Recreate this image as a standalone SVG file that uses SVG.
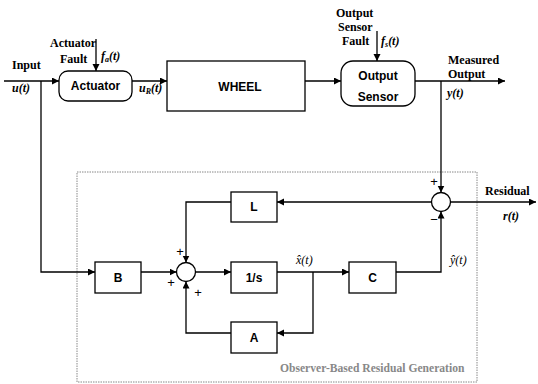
<svg xmlns="http://www.w3.org/2000/svg" width="538" height="384" viewBox="0 0 538 384">
<style>
.box{fill:#fff;stroke:#000;stroke-width:1.3}
.ln{fill:none;stroke:#000;stroke-width:1.3}
.bl{font-family:"Liberation Sans",Arial,sans-serif;font-weight:bold;font-size:12px;text-anchor:middle}
.lb{font-family:"Liberation Serif","Times New Roman",serif;font-weight:bold;font-size:12px}
.it{font-family:"Liberation Serif","Times New Roman",serif;font-weight:bold;font-style:italic;font-size:12px}
.pm{font-family:"Liberation Sans",Arial,sans-serif;font-size:13px;text-anchor:middle}
</style>
<defs>
<marker id="ah" markerWidth="8" markerHeight="8" refX="7" refY="3.5" orient="auto" markerUnits="userSpaceOnUse">
<path d="M0,0 L7,3.5 L0,7 Z" fill="#000"/>
</marker>
</defs>
<rect x="77" y="172" width="400" height="210" fill="none" stroke="#888" stroke-width="1" stroke-dasharray="1.5,1"/>
<text x="280" y="372" font-family="'Liberation Serif','Times New Roman',serif" font-weight="bold" font-size="11.6" fill="#888">Observer-Based Residual Generation</text>

<g id="actuator"><rect class="box" x="59" y="71" width="73" height="30" rx="9"/><text class="bl" x="95.5" y="90">Actuator</text></g>
<g id="wheel"><rect class="box" x="167" y="61" width="138" height="50"/><text class="bl" x="240" y="91">WHEEL</text></g>
<g id="sensor"><rect class="box" x="341" y="61" width="74" height="45" rx="12"/><text class="bl" x="378" y="80">Output</text><text class="bl" x="378" y="101">Sensor</text></g>
<g id="L"><rect class="box" x="231" y="192" width="46" height="30"/><text class="bl" x="254" y="211">L</text></g>
<g id="integ"><rect class="box" x="231" y="262" width="46" height="31"/><text class="bl" x="254" y="282">1/s</text></g>
<g id="A"><rect class="box" x="231" y="322" width="46" height="31"/><text class="bl" x="254" y="342">A</text></g>
<g id="B"><rect class="box" x="95" y="262" width="46" height="31"/><text class="bl" x="118" y="282">B</text></g>
<g id="C"><rect class="box" x="349" y="262" width="47" height="31"/><text class="bl" x="372.5" y="282">C</text></g>
<g id="sum1"><circle class="box" cx="186" cy="272" r="9.5"/></g>
<g id="sum2"><circle class="box" cx="441" cy="202" r="9.5"/></g>

<g id="connectors">
<path class="ln" d="M4,81 H59" marker-end="url(#ah)"/>
<path class="ln" d="M96,39 V71" marker-end="url(#ah)"/>
<path class="ln" d="M132,81 H167" marker-end="url(#ah)"/>
<path class="ln" d="M305,81 H341" marker-end="url(#ah)"/>
<path class="ln" d="M377,31 V61" marker-end="url(#ah)"/>
<path class="ln" d="M415,81 H505" marker-end="url(#ah)"/>
<path class="ln" d="M441,81 V192.5" marker-end="url(#ah)"/>
<path class="ln" d="M450.5,202 H536" marker-end="url(#ah)"/>
<path class="ln" d="M431.5,202 H277" marker-end="url(#ah)"/>
<path class="ln" d="M231,202 H186 V262.5" marker-end="url(#ah)"/>
<path class="ln" d="M41,81 V272 H95" marker-end="url(#ah)"/>
<path class="ln" d="M141,272 H176.5" marker-end="url(#ah)"/>
<path class="ln" d="M195.5,272 H231" marker-end="url(#ah)"/>
<path class="ln" d="M277,272 H349" marker-end="url(#ah)"/>
<path class="ln" d="M313,272 V333 H277" marker-end="url(#ah)"/>
<path class="ln" d="M231,333 H186 V281.5" marker-end="url(#ah)"/>
<path class="ln" d="M396,272 H441 V211.5" marker-end="url(#ah)"/>
</g>

<g id="labels">
<text class="lb" x="12" y="69">Input</text>
<text class="it" x="12" y="92">u(t)</text>
<text class="lb" x="50" y="47">Actuator</text>
<text class="lb" x="60" y="63">Fault</text>
<text class="it" x="101" y="60">f<tspan font-size="8" dy="2">a</tspan><tspan dy="-2">(t)</tspan></text>
<text class="it" x="139" y="92">u<tspan font-size="8" dy="2">R</tspan><tspan dy="-2">(t)</tspan></text>
<text class="lb" x="336" y="17">Output</text>
<text class="lb" x="338" y="31">Sensor</text>
<text class="lb" x="342" y="45">Fault</text>
<text class="it" x="381" y="45">f<tspan font-size="8" dy="2">s</tspan><tspan dy="-2">(t)</tspan></text>
<text class="lb" x="448" y="64">Measured</text>
<text class="lb" x="448" y="78">Output</text>
<text class="it" x="447" y="97">y(t)</text>
<text class="lb" x="485" y="195">Residual</text>
<text class="it" x="503" y="220">r(t)</text>
<text font-family="'Liberation Serif','Times New Roman',serif" font-style="italic" font-size="12" x="296" y="264">x̂(t)</text>
<text font-family="'Liberation Serif','Times New Roman',serif" font-style="italic" font-size="12" x="450" y="264">ŷ(t)</text>
<text class="pm" x="180" y="256">+</text>
<text class="pm" x="171" y="287">+</text>
<text class="pm" x="198" y="297">+</text>
<text class="pm" x="434" y="186">+</text>
<text class="pm" x="434" y="224">−</text>
</g>
</svg>
